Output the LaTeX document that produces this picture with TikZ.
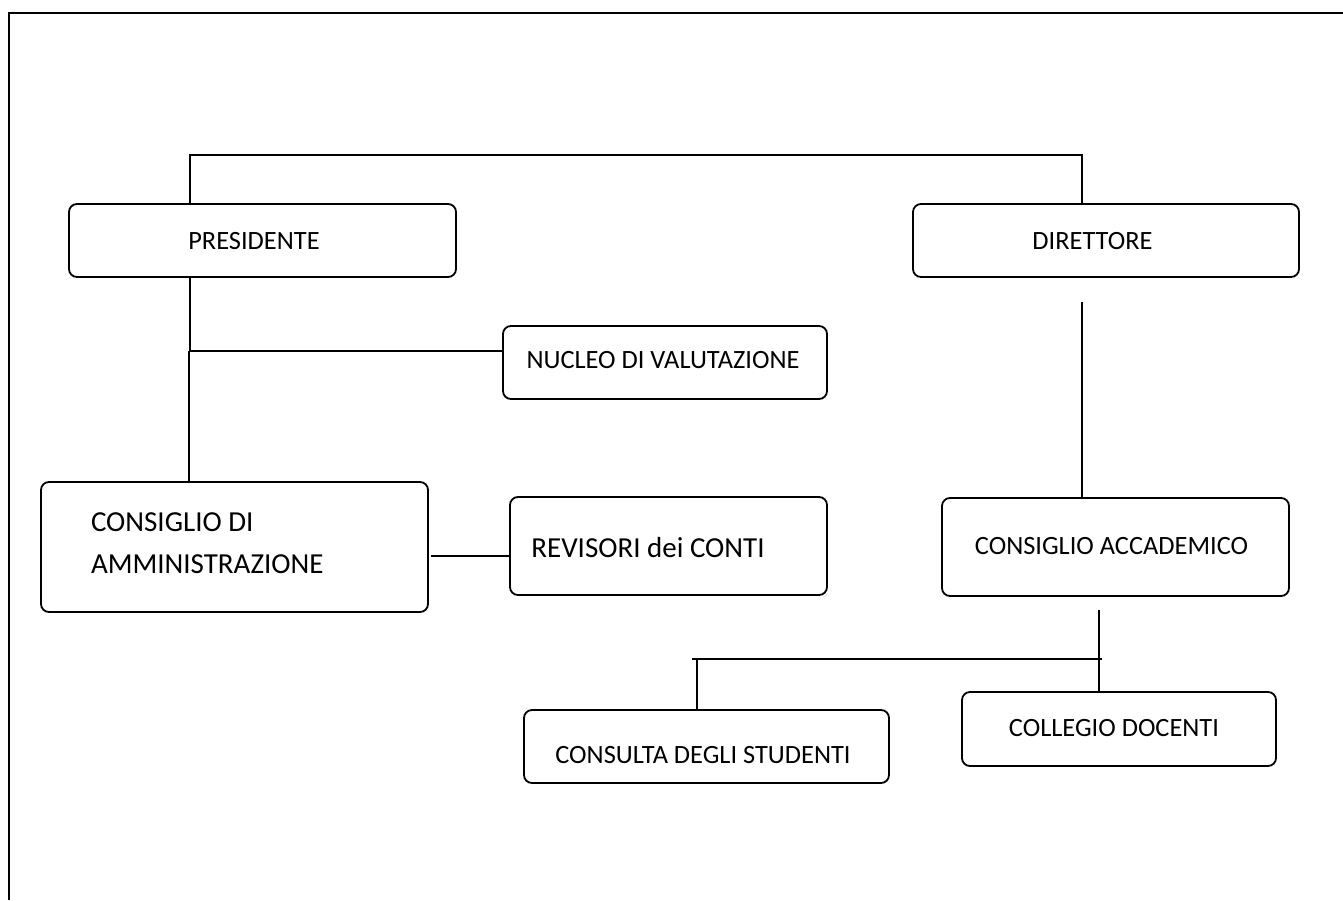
\documentclass[tikz,border=0pt]{standalone}
\usepackage{fontspec}
\setmainfont{Carlito}
\begin{document}
\begin{tikzpicture}[x=1pt,y=-1pt,
  box/.style={draw, line width=1.8pt, rounded corners=8pt, inner sep=0pt, outer sep=0pt},
  lbl/.style={inner sep=0pt, outer sep=0pt, font=\fontsize{26.4}{32}\selectfont, anchor=base},
  big/.style={font=\fontsize{29}{42}\selectfont},
  link/.style={line width=1.8pt},
  thick link/.style={line width=2.6pt},
  frame/.style={line width=2.4pt}]
\useasboundingbox (0,0) rectangle (1343,900);
\fill[white] (0,0) rectangle (1343,900);
% frame
\draw[frame] (9,900) -- (9,13) -- (1343,13);

% boxes
\node[box, minimum width=387pt, minimum height=73pt] (pres) at (262.5,240.5) {};
\node[box, minimum width=386pt, minimum height=73pt] (dir)  at (1106,240.5) {};
\node[box, minimum width=324pt, minimum height=73pt] (nuc)  at (665,362.5) {};
\node[box, minimum width=387pt, minimum height=130pt] (cda) at (234.5,547) {};
\node[box, minimum width=317pt, minimum height=98pt] (rev)  at (668.5,546) {};
\node[box, minimum width=347pt, minimum height=98pt] (cacc) at (1115.5,547) {};
\node[box, minimum width=314pt, minimum height=74pt] (coll) at (1119,729) {};
\node[box, minimum width=365pt, minimum height=73pt] (cons) at (706.5,746.5) {};

% labels
\node[lbl] (presT) at (254,249) {PRESIDENTE};
\node[lbl] (dirT) at (1092.5,249) {DIRETTORE};
\node[lbl] (nucT) at (663,368) {NUCLEO DI VALUTAZIONE};
\node[lbl, big] (revT) at (648,557) {REVISORI dei CONTI};
\node[lbl, big, align=left, anchor=west] (cdaT) at (91,543.5) {CONSIGLIO DI\\AMMINISTRAZIONE};
\node[lbl] (caccT) at (1111.5,554) {CONSIGLIO ACCADEMICO};
\node[lbl] (collT) at (1114,736) {COLLEGIO DOCENTI};
\node[lbl] (consT) at (703,763) {CONSULTA DEGLI STUDENTI};

% connector coordinates
\coordinate (tl) at (190,155);
\coordinate (tr) at (1082,155);
\coordinate (jn) at (190,351);
\coordinate (jl) at (189,351);
\coordinate (rv) at (431,556);
\coordinate (dtop) at (1082,302);
\coordinate (ctop) at (1099,610);
\coordinate (hl) at (692,659);
\coordinate (hr) at (1102,659);
\coordinate (hs) at (697,659);

% connectors
\draw[link] (pres.north -| tl) -- (tl) -- (tr) -- (dir.north -| tr);
\draw[link] (pres.south -| jn) -- (jn);
\draw[link] (jl) -- (cda.north -| jl);
\draw[link] (jl) -- (nuc.west |- jn);
\draw[link] (rv) -- (rev.west |- rv);
\draw[link] (dtop) -- (cacc.north -| dtop);
\draw[link] (ctop) -- (coll.north -| ctop);
\draw[thick link] (hl) -- (hr);
\draw[link] (hs) -- (cons.north -| hs);
\end{tikzpicture}
\end{document}
